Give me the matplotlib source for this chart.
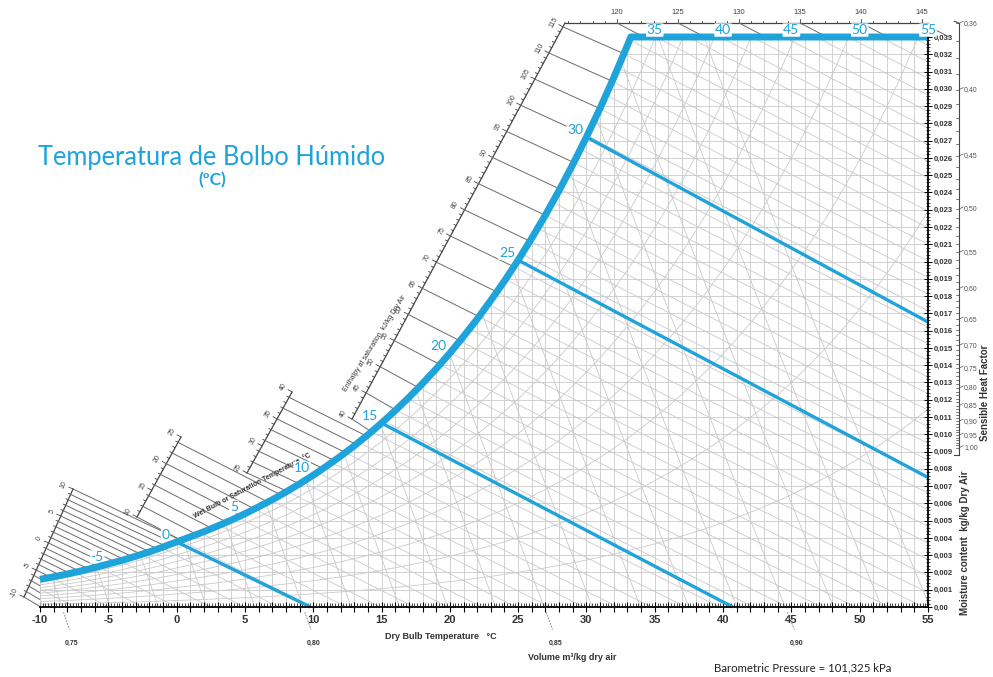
import numpy as np
import matplotlib
matplotlib.use("Agg")
import matplotlib.pyplot as plt
from matplotlib.patches import Polygon
from matplotlib.collections import LineCollection
from matplotlib.ticker import MultipleLocator, FuncFormatter

plt.rcParams['font.family'] = ['Liberation Sans', 'DejaVu Sans']

# saturation moisture content (kg/kg dry air) at 101,325 kPa, -10..55 degC
sat_t = list(range(-10, 56))
sat_w = [0.00160, 0.00175, 0.00191, 0.00209, 0.00228, 0.00249, 0.00270, 0.00294, 0.00319, 0.00347,
         0.00377, 0.00406, 0.00436, 0.00469, 0.00503, 0.00540, 0.00580, 0.00621, 0.00666, 0.00713,
         0.00763, 0.00817, 0.00873, 0.00933, 0.00997, 0.01065, 0.01137, 0.01213, 0.01294, 0.01379,
         0.01470, 0.01566, 0.01667, 0.01775, 0.01888, 0.02008, 0.02136, 0.02270, 0.02412, 0.02562,
         0.02721, 0.02888, 0.03065, 0.03252, 0.03450, 0.03657, 0.03877, 0.04109, 0.04355, 0.04614,
         0.04888, 0.05176, 0.05482, 0.05804, 0.06144, 0.06503, 0.06883, 0.07285, 0.07709, 0.08158,
         0.08632, 0.09134, 0.09666, 0.10228, 0.10824, 0.11456]

wb_labels = [-5, 0, 5, 10, 15, 20, 25, 30]
wb_top_labels = [35, 40, 45, 50, 55]

# highlighted wet bulb lines (start on saturation) and where they end
wb_lines = [0, 15, 25, 30]
wb_end_t = [9.8, 40.7, 55.0, 55.0]
wb_end_w = [0.0, 0.0, 0.0075, 0.0165]

vol_labels = [0.75, 0.80, 0.85, 0.90]
shf_labels = [0.36, 0.40, 0.45, 0.50, 0.55, 0.60, 0.65, 0.70, 0.75, 0.80, 0.85, 0.90, 0.95, 1.00]
top_h_labels = [120, 125, 130, 135, 140, 145]

BLUE = '#1ea3db'
GRID = '#cacaca'
DARK = '#6a6a6a'
TXT = '#333333'

fig = plt.figure(figsize=(9.93, 6.77), dpi=100)
ax = fig.add_axes([40 / 993, 70 / 677, 888 / 993, 570 / 677])
ax.set_xlim(-10, 55)
ax.set_ylim(0, 0.033)
PX_T = 888 / 65        # pixels per degC
PX_W = 570 / 0.033     # pixels per kg/kg


def w_at(h, t):
    return (h - 1.006 * t) / (2501 + 1.86 * t)


def h_at(t, w):
    return 1.006 * t + w * (2501 + 1.86 * t)


def off(p, dx, dy):
    # shift a data point by pixels
    return (p[0] + dx / PX_T, p[1] + dy / PX_W)


st = np.array(sat_t, float)
sw = np.array(sat_w)
t_top = np.interp(0.033, sw, st)
inside = sw < 0.033
curve_t = np.r_[st[inside], t_top]
curve_w = np.r_[sw[inside], 0.033]
curve_h = h_at(curve_t, curve_w)

# background mesh, clipped under the saturation line
verts = [(-10, 0)] + list(zip(curve_t, curve_w)) + [(55, 0.033), (55, 0)]
clip = Polygon(verts, closed=True, transform=ax.transData)
segs = []
for t in range(-10, 56):
    segs.append([(t, 0), (t, 0.033)])
for w in np.arange(0.001, 0.033, 0.001):
    segs.append([(-10, w), (55, w)])
tt = np.linspace(-10, 55, 30)
for h in np.arange(-10, 150, 2.5):
    segs.append(np.c_[tt, w_at(h, tt)])
ww = np.linspace(0, 0.033, 10)
for v in np.arange(0.74, 0.935, 0.01):
    segs.append(np.c_[v * 101.325 / (0.287042 * (1 + 1.6078 * ww)) - 273.15, ww])
for p in np.arange(0.1, 0.95, 0.1):
    segs.append(np.c_[st, p * sw])
lc = LineCollection(segs, colors=GRID, linewidths=0.6, zorder=1)
ax.add_collection(lc)
lc.set_clip_path(clip)

# enthalpy scale on the left: (h0, h1, start, end, line step)
scales = [
    (-10, 10, (-11.17, 0.00058), (-7.58, 0.00683), 1),
    (10, 25, (-2.90, 0.00521), (0.32, 0.00984), 2),
    (25, 40, (5.15, 0.00776), (8.45, 0.01245), 2),
    (40, 115.73, (12.84, 0.01088), (28.43, 0.03381), 2.5),
]
for h0, h1, a, b, step in scales:
    ax.plot([a[0], b[0]], [a[1], b[1]], color='#444444', lw=0.9, clip_on=False, zorder=2)
    d = np.array([(b[0] - a[0]) * PX_T, (b[1] - a[1]) * PX_W])
    u = d / np.hypot(*d)
    n = np.array([-u[1], u[0]])
    ang = np.degrees(np.arctan2(u[1], u[0]))
    for h in np.arange(np.ceil(h0), h1 + 1e-6, 1):
        f = (h - h0) / (h1 - h0)
        p = (a[0] + f * (b[0] - a[0]), a[1] + f * (b[1] - a[1]))
        major = abs(h % 5) < 1e-6
        L = 4.5 if major else 2.5
        q = off(p, n[0] * L, n[1] * L)
        ax.plot([p[0], q[0]], [p[1], q[1]], color='#444444', lw=0.6, clip_on=False, zorder=2)
        if major:
            lp = off(p, n[0] * 10, n[1] * 10)
            ax.text(lp[0], lp[1], f"{int(h)}", rotation=ang, ha='center', va='center',
                    fontsize=5, color='#444444', zorder=2)
        if abs(((h - h0) / step) - round((h - h0) / step)) < 1e-6:
            te = np.interp(h, curve_h, curve_t)
            ax.plot([p[0], te], [p[1], w_at(h, te)], color=DARK, lw=0.7,
                    clip_on=False, zorder=2)

# enthalpy scale along the top
W_TOP = 0.03381
ax.plot([28.43, 55.0], [W_TOP, W_TOP], color='#444444', lw=0.9, clip_on=False, zorder=2)
for h in range(116, 146):
    t = 32.24 + (h - 120) * 0.8932
    L = 4.5 if h % 5 == 0 else 2.5
    ax.plot([t, t], [W_TOP, W_TOP + L / PX_W], color='#444444', lw=0.6, clip_on=False)
    if h % 5 == 0:
        hh = h_at(t, W_TOP)
        te = (hh - 0.033 * 2501) / (1.006 + 0.033 * 1.86)
        ax.plot([t, te], [W_TOP, 0.033], color=DARK, lw=0.7, clip_on=False, zorder=2)
for h in top_h_labels:
    t = 32.24 + (h - 120) * 0.8932
    ax.text(t, W_TOP + 11 / PX_W, str(h), ha='center', va='center', fontsize=5.5,
            color='#444444')

# saturation line and the top boundary
ax.plot(list(curve_t) + [55.0], list(curve_w) + [0.033], color=BLUE, lw=5,
        solid_capstyle='butt', solid_joinstyle='round', clip_on=False, zorder=4)

# highlighted wet bulb lines
for t0, te, we in zip(wb_lines, wb_end_t, wb_end_w):
    ax.plot([t0, te], [np.interp(t0, st, sw), we], color=BLUE, lw=2.4,
            solid_capstyle='butt', clip_on=False, zorder=3)

lab_font = dict(family=['Lato', 'DejaVu Sans'], fontsize=10, color=BLUE, ha='center',
                va='center', bbox=dict(boxstyle='round,pad=0.05', fc='white', ec='none'))
for t0 in wb_labels:
    ax.annotate(str(t0), xy=(t0, np.interp(t0, st, sw)), xytext=(-8, 5),
                textcoords='offset points', annotation_clip=False, zorder=3.5, **lab_font)
for t0 in wb_top_labels:
    ax.annotate(str(t0), xy=(t0, 0.033), xytext=(0, 5), textcoords='offset points',
                annotation_clip=False, zorder=6, **lab_font)

# volume lines below the axis
for v in vol_labels:
    wd = np.array([-0.0003, -0.0013])
    td = v * 101.325 / (0.287042 * (1 + 1.6078 * wd)) - 273.15
    ax.plot(td, wd, color='#777777', lw=0.6, ls=(0, (2, 1.5)), clip_on=False)
    tl = v * 101.325 / (0.287042 * (1 - 1.6078 * 0.0015)) - 273.15
    ax.text(tl + 0.1, -0.00208, f"{v:.2f}".replace('.', ','), ha='center', va='center',
            fontsize=5, color=TXT, fontweight='bold')

# sensible heat factor scale
T_SHF = 57.28


def shf_w(s):
    return 0.009223 + 0.01382 * (1 - s) / s


ax.plot([T_SHF, T_SHF], [0.0088, shf_w(0.36)], color='#444444', lw=0.8, clip_on=False)
ax.plot([T_SHF, T_SHF - 0.35], [shf_w(0.36), shf_w(0.36) + 0.00012], color='#444444',
        lw=0.8, clip_on=False)
ax.plot([T_SHF, T_SHF - 0.35], [0.0088, 0.0088], color='#444444', lw=0.8, clip_on=False)
for s in np.arange(0.36, 1.0001, 0.01):
    ax.plot([T_SHF - 3 / PX_T, T_SHF], [shf_w(s), shf_w(s)], color='#444444', lw=0.5,
            clip_on=False)
for s in shf_labels:
    ax.plot([T_SHF, T_SHF + 4 / PX_T], [shf_w(s), shf_w(s) + 2 / PX_W], color='#555555',
            lw=0.5, clip_on=False)
    ax.text(T_SHF + 5 / PX_T, shf_w(s), f"{s:.2f}".replace('.', ','), ha='left',
            va='center', fontsize=5, color='#555555')

# axes, ticks
for side in ('left', 'top'):
    ax.spines[side].set_visible(False)
for side in ('bottom', 'right'):
    ax.spines[side].set_linewidth(1.3)
    ax.spines[side].set_zorder(5)
ax.plot([-10, -10], [0, sw[0]], color=GRID, lw=0.6)

ax.xaxis.set_major_locator(MultipleLocator(1))
ax.xaxis.set_minor_locator(MultipleLocator(0.2))
ax.xaxis.set_major_formatter(FuncFormatter(
    lambda v, p: f"{int(round(v))}" if int(round(v)) % 5 == 0 else ""))
ax.tick_params(axis='x', which='major', direction='inout', length=7, width=0.8,
               labelsize=8, labelcolor=TXT, pad=2.5)
ax.tick_params(axis='x', which='minor', direction='in', length=3, width=0.5)
for lab in ax.get_xticklabels():
    lab.set_fontweight('bold')

ax.yaxis.tick_right()
ax.yaxis.set_major_locator(MultipleLocator(0.001))
ax.yaxis.set_minor_locator(MultipleLocator(0.0002))
ax.yaxis.set_major_formatter(FuncFormatter(
    lambda v, p: "0,00" if abs(v) < 1e-9 else f"{v:.3f}".replace('.', ',')))
ax.tick_params(axis='y', which='major', direction='inout', length=6, width=0.7,
               labelsize=5.5, labelcolor=TXT, pad=1)
ax.tick_params(axis='y', which='minor', direction='inout', length=3, width=0.5)
for lab in ax.get_yticklabels():
    lab.set_fontweight('bold')

# axis titles and notes
ax.text(19.36, -0.00168, "Dry Bulb Temperature   \u00b0C", ha='center', va='center',
        fontsize=6.5, fontweight='bold', color=TXT)
ax.text(28.95, -0.00295, "Volume m\u00b3/kg dry air", ha='center', va='center',
        fontsize=6.5, fontweight='bold', color=TXT)
ax.text(57.72, 0.0037, "Moisture content  kg/kg Dry Air", rotation=90, ha='center',
        va='center', fontsize=7, fontweight='bold', color=TXT)
ax.text(59.18, 0.01239, "Sensible Heat Factor", rotation=90, ha='center', va='center',
        fontsize=7, fontweight='bold', color=TXT)
ax.text(5.52, 0.0070, "Wet Bulb or Saturation Temperature  \u00b0C", rotation=28,
        ha='center', va='center', fontsize=5, fontweight='bold', color=TXT)
ax.text(14.52, 0.01528, "Enthalpy at saturation  kJ/kg Dry Air", rotation=58,
        ha='center', va='center', fontsize=5, color=TXT)

fig.text(803 / 993, 1 - 668 / 677, "Barometric Pressure = 101,325 kPa", ha='center',
         va='center', fontsize=8.2, color='#222222', family=['Lato', 'DejaVu Sans'])
fig.text(212 / 993, 1 - 157 / 677, "Temperatura de Bolbo H\u00famido", ha='center',
         va='center', fontsize=18.4, color=BLUE, family=['Lato', 'DejaVu Sans'])
fig.text(212 / 993, 1 - 180 / 677, "(\u00baC)", ha='center', va='center', fontsize=12.5,
         color=BLUE, fontweight='bold', family=['Lato', 'DejaVu Sans'])

fig.savefig("out.png", dpi=100, facecolor='white')
